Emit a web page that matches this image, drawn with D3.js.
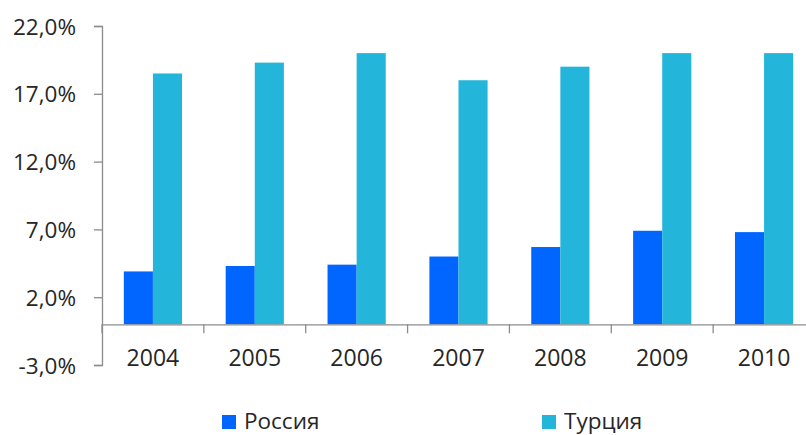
<!DOCTYPE html>
<html>
<head>
<meta charset="utf-8">
<script src="https://cdn.jsdelivr.net/npm/d3@7"></script>
<style>
  body { margin: 0; background: #fff; }
  text { font-family: "Open Sans", "Liberation Sans", sans-serif; fill: #262626; }
</style>
</head>
<body>
<div id="chart"></div>
<script>
// data
const years = ['2004', '2005', '2006', '2007', '2008', '2009', '2010']
const russia = [3.9, 4.3, 4.4, 5.0, 5.7, 6.9, 6.8]
const turkey = [18.5, 19.3, 20.0, 18.0, 19.0, 20.0, 20.0]
const seriesNames = ['Россия', 'Турция']
const yTicks = [-3, 2, 7, 12, 17, 22]

const width = 806,
  height = 435,
  marginLeft = 102,
  plotRight = 815,
  plotTop = 26,
  plotBottom = 365

const colors = ['#0066ff', '#24b6da']

let svg = d3.select('#chart')
  .append('svg')
  .attr('width', width)
  .attr('height', height)

let x = d3.scaleBand()
  .domain(years)
  .range([marginLeft, plotRight])

let x1 = d3.scaleBand()
  .domain([0, 1])
  .range([0, x.bandwidth()])
  .paddingOuter(0.75)

let y = d3.scaleLinear()
  .domain([-3, 22])
  .range([plotBottom, plotTop])

let fmt = d => d.toFixed(1).replace('.', ',') + '%'

// y axis
let yAxis = svg.append('g')
  .attr('transform', `translate(${marginLeft},0)`)
  .call(d3.axisLeft(y).tickValues(yTicks).tickSize(8).tickPadding(18).tickFormat(fmt))
yAxis.select('.domain').attr('stroke', '#8c8c8c').attr('stroke-width', 1.3)
yAxis.selectAll('.tick line').attr('stroke', '#8c8c8c').attr('stroke-width', 1.3)
yAxis.selectAll('.tick text')
  .style('font-size', '22.5px')
  .style('font-family', '"Open Sans", sans-serif')
  .attr('dy', '0.36em')
  .style('fill', '#262626')

// bars
let rows = years.map((yr, i) => ({ year: yr, vals: [russia[i], turkey[i]] }))
let groups = svg.selectAll('g.year')
  .data(rows)
  .enter()
  .append('g')
  .attr('class', 'year')
  .attr('transform', d => `translate(${x(d.year)},0)`)

groups.selectAll('rect')
  .data(d => d.vals)
  .enter()
  .append('rect')
  .attr('x', (d, i) => x1(i))
  .attr('width', x1.bandwidth())
  .attr('y', d => y(d))
  .attr('height', d => y(0) - y(d))
  .attr('fill', (d, i) => colors[i])

// x axis at zero
let xAxis = svg.append('g')
  .attr('transform', `translate(0,${y(0)})`)
  .call(d3.axisBottom(x).tickSize(0).tickFormat(''))
xAxis.select('.domain').attr('stroke', '#8c8c8c').attr('stroke-width', 1.3)
xAxis.selectAll('.tick').remove()

// category boundary ticks
svg.selectAll('line.cat')
  .data(years)
  .enter()
  .append('line')
  .attr('class', 'cat')
  .attr('x1', d => x(d))
  .attr('x2', d => x(d))
  .attr('y1', y(0))
  .attr('y2', y(0) + 9)
  .attr('stroke', '#8c8c8c')
  .attr('stroke-width', 1.3)

svg.selectAll('text.cat')
  .data(years)
  .enter()
  .append('text')
  .attr('class', 'cat')
  .attr('x', d => x(d) + x.bandwidth() / 2)
  .attr('y', 366)
  .attr('text-anchor', 'middle')
  .style('font-size', '23px')
  .text(d => d)

// legend
let legendX = [222, 542]
let legend = svg.selectAll('g.legend')
  .data(seriesNames)
  .enter()
  .append('g')
  .attr('class', 'legend')
  .attr('transform', (d, i) => `translate(${legendX[i]},415)`)
legend.append('rect')
  .attr('width', 14)
  .attr('height', 14)
  .attr('fill', (d, i) => colors[i])
legend.append('text')
  .attr('x', 22)
  .attr('y', 14)
  .style('font-size', '22.5px')
  .text(d => d)
</script>
</body>
</html>
